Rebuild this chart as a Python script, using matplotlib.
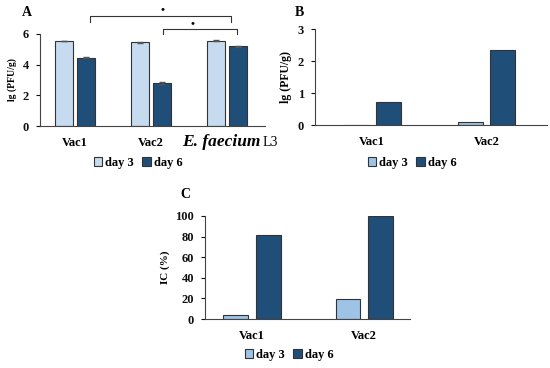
import matplotlib
matplotlib.use("Agg")
import matplotlib.pyplot as plt
from matplotlib.patches import Patch
import numpy as np

plt.rcParams['font.family'] = ['Liberation Serif', 'DejaVu Serif']
plt.rcParams['font.weight'] = 'bold'

# Panel A data
a_cats = ["Vac1", "Vac2", "E. faecium L3"]
a_day3 = [5.55, 5.45, 5.55]
a_day6 = [4.45, 2.80, 5.20]
a_err3 = [0.02, 0.03, 0.03]
a_err6 = [0.02, 0.08, 0.03]
a_yticks = [0, 2, 4, 6]

# Panel B data
b_cats = ["Vac1", "Vac2"]
b_day3 = [0.01, 0.09]
b_day6 = [0.73, 2.35]
b_yticks = [0, 1, 2, 3]

# Panel C data
c_cats = ["Vac1", "Vac2"]
c_day3 = [3.5, 19.0]
c_day6 = [82.0, 100.0]
c_yticks = [0, 20, 40, 60, 80, 100]

W, H = 550, 368
fig = plt.figure(figsize=(W / 100, H / 100), dpi=100)

c3a = "#c6dbf0"
c3c = "#9dc3e6"
c6 = "#1f4e79"
edge = "#333333"


def px_axes(l, r, top, bottom):
    return fig.add_axes([l / W, 1 - bottom / H, (r - l) / W, (bottom - top) / H])


def style(ax, yticks, ylabel, cats, ylsize):
    for s in ["top", "right"]:
        ax.spines[s].set_visible(False)
    ax.spines["left"].set_color("#444444")
    ax.spines["bottom"].set_color("#444444")
    ax.set_yticks(yticks)
    ax.set_yticklabels([str(t) for t in yticks], fontsize=9, fontweight='bold')
    ax.tick_params(axis='y', length=3, width=0.8, pad=5, colors="#111111")
    ax.tick_params(axis='x', length=0, pad=8)
    ax.set_xticks(range(len(cats)))
    ax.set_ylabel(ylabel, fontsize=ylsize, fontweight='bold', labelpad=4)


def legend(cx, cy, col3):
    handles = [Patch(facecolor=col3, edgecolor=edge, linewidth=0.8, label="day 3"),
               Patch(facecolor=c6, edgecolor=edge, linewidth=0.8, label="day 6")]
    fig.legend(handles=handles, loc='center', bbox_to_anchor=(cx / W, 1 - cy / H),
               ncol=2, frameon=False, handlelength=0.7, handleheight=0.7,
               handletextpad=0.2, columnspacing=0.7, prop={'weight': 'bold', 'size': 9})


# ---- Panel A
axA = px_axes(40, 265, 34, 126)
x = np.arange(len(a_cats))
w, off = 0.23, 0.145
axA.bar(x - off, a_day3, w, color=c3a, edgecolor=edge, linewidth=0.8,
        yerr=a_err3, error_kw=dict(ecolor="#555555", capsize=2, elinewidth=0.6))
axA.bar(x + off, a_day6, w, color=c6, edgecolor=edge, linewidth=0.8,
        yerr=a_err6, error_kw=dict(ecolor="#555555", capsize=2, elinewidth=0.6))
axA.set_xlim(-0.46, 2.5)
axA.set_ylim(0, 6)
style(axA, a_yticks, "lg (PFU/g)", a_cats, 7)
axA.set_xticklabels(["Vac1", "Vac2", ""], fontsize=9, fontweight='bold')
# third category label: italic species name + strain
fig.text(260 / W, 1 - 142 / H, "E. faecium", fontsize=12.5, fontstyle='italic',
         fontweight='bold', ha='right', va='center')
fig.text(263 / W, 1 - 142 / H, "L3", fontsize=10, fontweight='normal',
         ha='left', va='center')
# significance brackets
axA.plot([0.2, 0.2, 2.05, 2.05], [6.78, 7.17, 7.17, 6.78], color="#333333", lw=0.8, clip_on=False)
axA.plot([1.16, 1.16, 2.13, 2.13], [6.0, 6.33, 6.33, 6.0], color="#333333", lw=0.8, clip_on=False)
axA.text(1.15, 7.3, "•", ha='center', va='bottom', fontsize=8, clip_on=False)
axA.text(1.55, 6.4, "•", ha='center', va='bottom', fontsize=8, clip_on=False)
fig.text(22 / W, 1 - 12 / H, "A", fontsize=10, fontweight='bold', ha='left', va='center')
legend(138, 163, c3a)

# ---- Panel B
axB = px_axes(315, 547, 29, 125)
x = np.arange(len(b_cats))
w, off = 0.22, 0.14
axB.bar(x - off, b_day3, w, color=c3c, edgecolor=edge, linewidth=0.8)
axB.bar(x + off, b_day6, w, color=c6, edgecolor=edge, linewidth=0.8)
axB.set_xlim(-0.5, 1.53)
axB.set_ylim(0, 3)
style(axB, b_yticks, "lg (PFU/g)", b_cats, 8.5)
axB.set_xticklabels(b_cats, fontsize=9, fontweight='bold')
fig.text(295 / W, 1 - 12 / H, "B", fontsize=10, fontweight='bold', ha='left', va='center')
legend(412, 163, c3c)

# ---- Panel C
axC = px_axes(205, 410, 216, 319)
x = np.arange(len(c_cats))
w, off = 0.22, 0.145
axC.bar(x - off, c_day3, w, color=c3c, edgecolor=edge, linewidth=0.8)
axC.bar(x + off, c_day6, w, color=c6, edgecolor=edge, linewidth=0.8)
axC.set_xlim(-0.42, 1.41)
axC.set_ylim(0, 100)
style(axC, c_yticks, "IC (%)", c_cats, 8)
axC.set_xticklabels(c_cats, fontsize=9, fontweight='bold')
fig.text(180 / W, 1 - 195 / H, "C", fontsize=10, fontweight='bold', ha='left', va='center')
legend(289, 355, c3c)

fig.savefig("out.png", dpi=100)
